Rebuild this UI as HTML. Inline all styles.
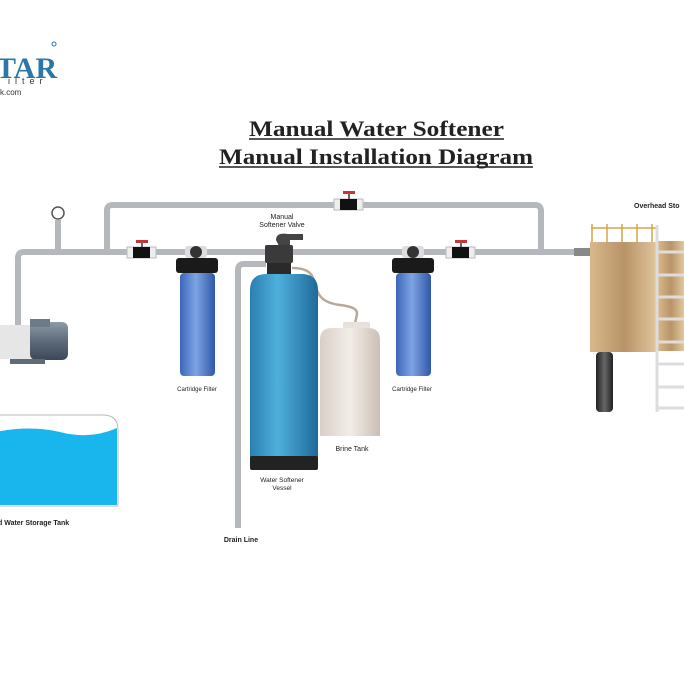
<!DOCTYPE html>
<html><head><meta charset="utf-8"><style>
html,body{margin:0;padding:0;background:#fff;}
svg{display:block;font-family:"Liberation Sans",sans-serif;}
</style></head><body>
<svg width="684" height="684" viewBox="0 0 684 684" xmlns="http://www.w3.org/2000/svg">
<defs>
<linearGradient id="blue" x1="0" x2="1"><stop offset="0" stop-color="#2a7fb0"/><stop offset="0.4" stop-color="#4fb0dc"/><stop offset="1" stop-color="#1f6a9a"/></linearGradient>
<linearGradient id="fblue" x1="0" x2="1"><stop offset="0" stop-color="#3b66b8"/><stop offset="0.45" stop-color="#7fa4e4"/><stop offset="1" stop-color="#2f58a8"/></linearGradient>
<linearGradient id="tan" x1="0" x2="1"><stop offset="0" stop-color="#d8b88a"/><stop offset="0.5" stop-color="#b89468"/><stop offset="1" stop-color="#e2c79e"/></linearGradient>
<linearGradient id="brine" x1="0" x2="1"><stop offset="0" stop-color="#d9cfc8"/><stop offset="0.5" stop-color="#f3ede8"/><stop offset="1" stop-color="#cbbfb6"/></linearGradient>
<linearGradient id="motor" x1="0" x2="0" y1="0" y2="1"><stop offset="0" stop-color="#8d9aa8"/><stop offset="0.5" stop-color="#5d6b7a"/><stop offset="1" stop-color="#3d4856"/></linearGradient>
<linearGradient id="leg" x1="0" x2="1"><stop offset="0" stop-color="#222"/><stop offset="0.5" stop-color="#666"/><stop offset="1" stop-color="#222"/></linearGradient>
</defs>
<!-- logo -->
<text x="-4" y="78" font-family="Liberation Serif,serif" font-weight="bold" font-size="30" fill="#2a77a8">TAR</text>
<circle cx="54" cy="44" r="2" fill="none" stroke="#2a77a8" stroke-width="1"/>
<text x="8" y="84" font-size="9" fill="#333" letter-spacing="5">ilter</text>
<text x="0" y="95" font-size="8" fill="#333">k.com</text>
<!-- title -->
<text x="249" y="136" textLength="255" lengthAdjust="spacingAndGlyphs" font-family="Liberation Serif,serif" font-weight="bold" font-size="22" fill="#222">Manual Water Softener</text>
<text x="219" y="164" textLength="314" lengthAdjust="spacingAndGlyphs" font-family="Liberation Serif,serif" font-weight="bold" font-size="22" fill="#222">Manual Installation Diagram</text>
<line x1="249" y1="139" x2="504" y2="139" stroke="#222" stroke-width="1.5"/>
<line x1="219" y1="167" x2="533" y2="167" stroke="#222" stroke-width="1.5"/>
<!-- pipes -->
<g fill="none" stroke="#b4b8bc" stroke-width="6" stroke-linejoin="round">
<path d="M18 335 V258 Q18 252 24 252 H590"/>
<path d="M107 252 V210 Q107 205 113 205 H535 Q541 205 541 211 V252"/>
<path d="M58 220 V252"/>
<path d="M238 528 V270 Q238 264 244 264 H266"/>
</g>
<path d="M574 252 H592" stroke="#888" stroke-width="8"/>
<!-- gauge -->
<circle cx="58" cy="213" r="6" fill="#fff" stroke="#555" stroke-width="1.5"/>
<!-- valves -->
<g>
<rect x="127" y="247" width="29" height="11" fill="#eee" stroke="#bbb"/><rect x="133" y="247" width="17" height="11" fill="#111"/><rect x="136" y="240" width="12" height="3" fill="#c33"/><line x1="142" y1="242" x2="142" y2="247" stroke="#666" stroke-width="2"/>
<rect x="334" y="199" width="29" height="11" fill="#eee" stroke="#bbb"/><rect x="340" y="199" width="17" height="11" fill="#111"/><rect x="343" y="191" width="12" height="3" fill="#c33"/><line x1="349" y1="193" x2="349" y2="199" stroke="#666" stroke-width="2"/>
<rect x="446" y="247" width="29" height="11" fill="#eee" stroke="#bbb"/><rect x="452" y="247" width="17" height="11" fill="#111"/><rect x="455" y="240" width="12" height="3" fill="#c33"/><line x1="461" y1="242" x2="461" y2="247" stroke="#666" stroke-width="2"/>
</g>
<!-- filter 1 -->
<rect x="185" y="246" width="22" height="12" rx="3" fill="#ddd"/><circle cx="196" cy="252" r="6" fill="#333"/>
<rect x="176" y="258" width="42" height="15" rx="3" fill="#1a1a1a"/>
<rect x="180" y="273" width="35" height="103" rx="4" fill="url(#fblue)"/>
<text x="197" y="391" text-anchor="middle" font-size="6" fill="#222">Cartridge Filter</text>
<!-- filter 2 -->
<rect x="402" y="246" width="22" height="12" rx="3" fill="#ddd"/><circle cx="413" cy="252" r="6" fill="#333"/>
<rect x="392" y="258" width="42" height="15" rx="3" fill="#1a1a1a"/>
<rect x="396" y="273" width="35" height="103" rx="4" fill="url(#fblue)"/>
<text x="412" y="391" text-anchor="middle" font-size="6" fill="#222">Cartridge Filter</text>
<!-- softener -->
<path d="M292 268 C330 268 300 300 340 305 C365 308 355 315 355 325" fill="none" stroke="#b9a898" stroke-width="2.5"/>
<path d="M276 240 Q276 232 288 234 H303 V240 H290 V248 H280 Z" fill="#444"/>
<rect x="265" y="245" width="28" height="18" rx="2" fill="#3a3a3a"/>
<rect x="267" y="263" width="24" height="12" fill="#2a2a2a"/>
<path d="M250 290 Q250 275 265 274 H303 Q318 275 318 290 V458 H250 Z" fill="url(#blue)"/>
<rect x="250" y="456" width="68" height="14" rx="2" fill="#222"/>
<text x="282" y="219" text-anchor="middle" font-size="7" fill="#222">Manual</text>
<text x="282" y="227" text-anchor="middle" font-size="7" fill="#222">Softener Valve</text>
<text x="282" y="482" text-anchor="middle" font-size="6.5" fill="#222">Water Softener</text>
<text x="282" y="490" text-anchor="middle" font-size="6.5" fill="#222">Vessel</text>
<text x="241" y="542" text-anchor="middle" font-size="7" font-weight="bold" fill="#222">Drain Line</text>
<!-- brine -->
<rect x="343" y="322" width="27" height="8" rx="2" fill="#e8e0da"/>
<path d="M320 340 Q320 328 332 328 H368 Q380 328 380 340 V436 H320 Z" fill="url(#brine)"/>
<text x="352" y="451" text-anchor="middle" font-size="7" fill="#222">Brine Tank</text>
<!-- pump -->
<rect x="0" y="325" width="32" height="34" fill="#e6e6e6"/>
<rect x="30" y="322" width="38" height="38" rx="6" fill="url(#motor)"/>
<rect x="30" y="319" width="20" height="8" fill="#6d7a88"/>
<rect x="10" y="359" width="35" height="5" fill="#5d6b7a"/>
<!-- storage tank -->
<path d="M-5 415 H103 Q118 415 118 430 V506 H-5 Z" fill="#fff" stroke="#bbb"/>
<path d="M-5 432 Q30 425 60 432 Q90 440 117 428 V505 H-5 Z" fill="#19b6ee"/>
<text x="-2" y="525" font-size="7" font-weight="bold" fill="#222">d Water Storage Tank</text>
<!-- overhead tank -->
<text x="634" y="208" font-size="7" font-weight="bold" fill="#222">Overhead Sto</text>
<g stroke="#d9a24a" stroke-width="1.5"><line x1="591" y1="228" x2="656" y2="228"/>
<line x1="592" y1="224" x2="592" y2="242"/><line x1="607" y1="224" x2="607" y2="242"/><line x1="622" y1="224" x2="622" y2="242"/><line x1="637" y1="224" x2="637" y2="242"/><line x1="652" y1="224" x2="652" y2="242"/></g>
<rect x="590" y="242" width="68" height="110" fill="url(#tan)"/>
<rect x="596" y="352" width="17" height="60" rx="4" fill="url(#leg)"/>
<rect x="658" y="241" width="26" height="110" fill="url(#tan)"/>
<g stroke="#ddd" stroke-width="3"><line x1="657" y1="225" x2="657" y2="412"/>
<line x1="658" y1="252" x2="684" y2="252"/><line x1="658" y1="275" x2="684" y2="275"/><line x1="658" y1="297" x2="684" y2="297"/><line x1="658" y1="319" x2="684" y2="319"/><line x1="658" y1="342" x2="684" y2="342"/><line x1="658" y1="364" x2="684" y2="364"/><line x1="658" y1="387" x2="684" y2="387"/><line x1="658" y1="408" x2="684" y2="408"/></g>
</svg>
</body></html>
